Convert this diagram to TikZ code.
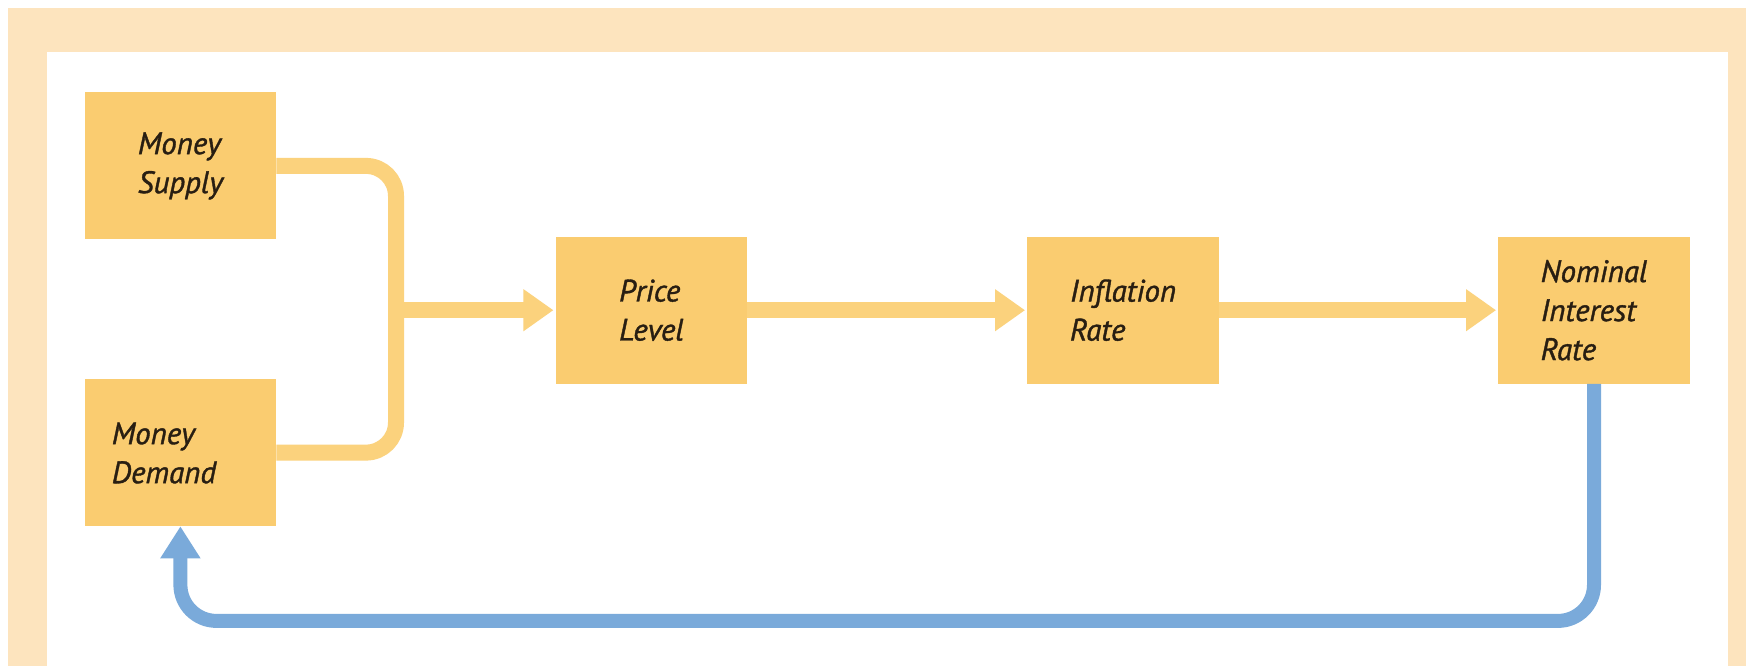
\documentclass[tikz,border=0pt]{standalone}
\usepackage{fontspec}
\setmainfont{PT Sans}[ItalicFeatures={FakeBold=1.2}]
\usetikzlibrary{arrows.meta}
\definecolor{boxfill}{RGB}{250,204,112}
\definecolor{yline}{RGB}{251,210,125}
\definecolor{bline}{RGB}{122,170,218}
\definecolor{framecol}{RGB}{253,228,190}
\definecolor{txt}{RGB}{40,30,18}
\begin{document}
\begin{tikzpicture}[x=1pt,y=-1pt,
  boxnode/.style={fill=boxfill, minimum width=191.5pt, minimum height=147pt, inner sep=0pt, align=left, text=txt, font=\fontsize{31}{39}\selectfont\itshape},
  lbl/.style={inner sep=0pt, align=left, text=txt, font=\fontsize{31}{39}\selectfont\itshape},
  yconn/.style={draw=yline, line width=16pt},
  yarr/.style={yconn, -{Triangle[width=40pt,length=30pt]}, shorten >=2pt},
  barr/.style={draw=bline, line width=14pt, rounded corners=36pt, -{Triangle[width=38pt,length=32pt]}}]
\useasboundingbox (0,0) rectangle (1746,666);
\fill[white] (0,0) rectangle (1746,666);
\fill[framecol] (8,8) rectangle (1746,666);
\fill[white] (47,52) rectangle (1728,666);

\node[boxnode] (ms) at (180.4,165.9) {Money\\Supply};
\node[boxnode] (md) at (180.4,452.6) {};
\node[lbl] (mdt) at (164,453) {Money\\Demand};
\node[boxnode] (pl) at (651.4,310.2) {Price\\Level};
\node[boxnode] (ir) at (1123,310.2) {Inflation\\Rate};
\node[boxnode] (nir) at (1594,310.2) {Nominal\\Interest\\Rate};

\coordinate (j) at (396,310.2);
\draw[yconn, rounded corners=30pt] (ms.east) -| (j) |- (md.east);
\draw[yarr] (j) -- (pl.west);
\draw[yarr] (pl.east) -- (ir.west);
\draw[yarr] (ir.east) -- (nir.west);

\draw[barr] (nir.south) -- ++(0,237) -| (md.south);
\end{tikzpicture}
\end{document}
